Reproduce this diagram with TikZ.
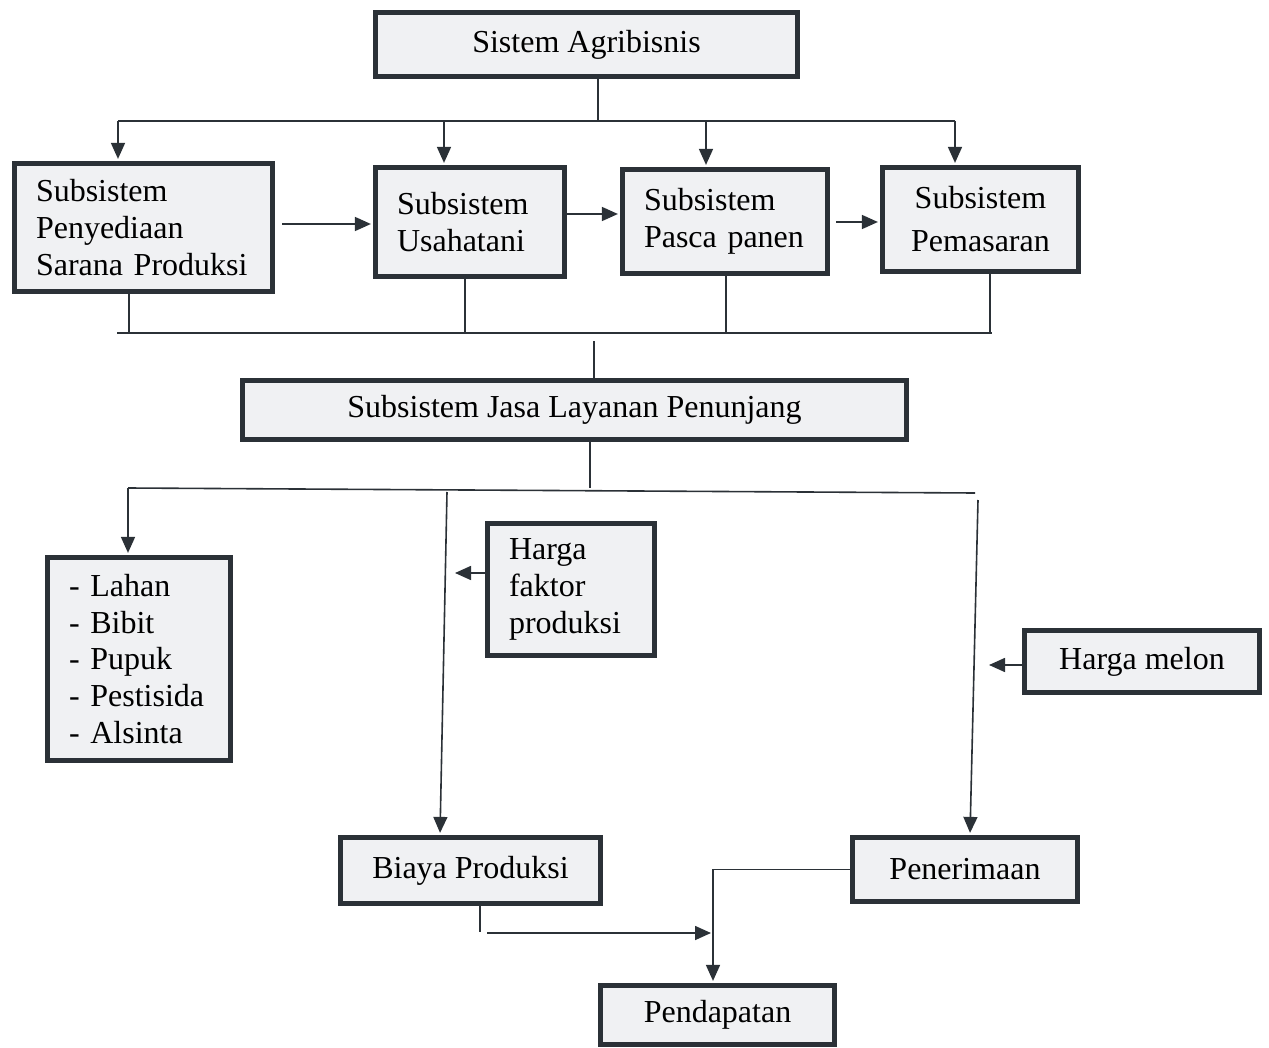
\documentclass[tikz,border=0pt]{standalone}
\usepackage{fontspec}
\setmainfont{Liberation Serif}
\usetikzlibrary{arrows.meta,positioning}
\definecolor{isi}{HTML}{F0F1F3}
\definecolor{tepi}{HTML}{2B3137}
\begin{document}
\begin{tikzpicture}[x=0.5pt, y=-0.5pt,
  kotak/.style = {shape=rectangle, draw=tepi, line width=2.6pt,
    fill=isi, align=center, inner sep=0pt,
    font=\fontsize{16}{18.4}\selectfont},
  kiri/.style = {align=left, inner xsep=10.75pt},
  hubung/.style = {draw=tepi, line width=0.8pt},
  panah/.style = {hubung, shorten >=1pt, -{Triangle[length=8pt,width=7pt]}}]
  \fill[white] (0,0) rectangle (1269,1048);
  \useasboundingbox (0,0) rectangle (1269,1048);

  \node[kotak, minimum width=211pt, minimum height=32pt] (agri) at (586.5,44.5) {Sistem Agribisnis};
  \node[kotak, kiri, text width=107.5pt, minimum height=64pt] (sarana) at (143.5,227.5) {Subsistem\\Penyediaan\\Sarana Produksi};
  \node[kotak, kiri, text width=73pt, minimum height=54.5pt] (usaha) at (470,222) {Subsistem\\Usahatani};
  \node[kotak, kiri, text width=81pt, minimum height=52pt] (pasca) at (725,221.5) {Subsistem\\Pasca panen};
  \node[kotak, minimum width=98pt, minimum height=52pt,
    font=\fontsize{16}{21.5}\selectfont] (pemasaran) at (980.5,219.5) {Subsistem\\Pemasaran};
  \node[kotak, minimum width=332pt, minimum height=29.5pt] (jasa) at (574.5,410) {Subsistem Jasa Layanan Penunjang};
  \node[kotak, kiri, text width=70pt, minimum height=101.5pt] (lahan) at (139,659) {- Lahan\\- Bibit\\- Pupuk\\- Pestisida\\- Alsinta};
  \node[kotak, kiri, text width=62pt, minimum height=66pt] (faktor) at (571,589.5) {Harga\\faktor\\produksi};
  \node[kotak, minimum width=117.5pt, minimum height=31pt] (melon) at (1142,661.5) {Harga melon};
  \node[kotak, minimum width=130pt, minimum height=33pt] (biaya) at (470.5,870.5) {Biaya Produksi};
  \node[kotak, minimum width=112.5pt, minimum height=32pt] (terima) at (965,869.5) {Penerimaan};
  \node[kotak, minimum width=117pt, minimum height=29.5pt] (dapat) at (717.5,1015) {Pendapatan};

  % cabang atas
  \coordinate (a0) at (598,121);
  \coordinate (bL) at (118,121);
  \coordinate (b2) at (444,121);
  \coordinate (b3) at (706,121);
  \coordinate (bR) at (955,121);
  \draw[hubung] (agri.south -| a0) -- (a0);
  \draw[hubung] (bL) -- (bR);
  \draw[panah] (bL) -- (bL |- sarana.north);
  \draw[panah] (b2) -- (b2 |- usaha.north);
  \draw[panah] (b3) -- (b3 |- pasca.north);
  \draw[panah] (bR) -- (bR |- pemasaran.north);

  \coordinate (h1) at (282,224);
  \coordinate (h2) at (567,214);
  \coordinate (h3) at (836,222);
  \draw[panah] (h1) -- (h1 -| usaha.west);
  \draw[panah] (h2) -- (h2 -| pasca.west);
  \draw[panah] (h3) -- (h3 -| pemasaran.west);

  % gabung ke jasa layanan
  \coordinate (cL) at (117,333);
  \coordinate (c1) at (129,333);
  \coordinate (c2) at (465,333);
  \coordinate (c3) at (726,333);
  \coordinate (c4) at (990,333);
  \coordinate (cR) at (992,333);
  \draw[hubung] (cL) -- (cR);
  \draw[hubung] (sarana.south -| c1) -- (c1);
  \draw[hubung] (usaha.south -| c2) -- (c2);
  \draw[hubung] (pasca.south -| c3) -- (c3);
  \draw[hubung] (pemasaran.south -| c4) -- (c4);
  \coordinate (j1) at (594,341);
  \draw[hubung] (j1) -- (j1 |- jasa.north);

  % cabang bawah
  \coordinate (j2) at (590,488);
  \coordinate (dL) at (128,488);
  \coordinate (dR) at (975,493);
  \coordinate (d2) at (447,492);
  \coordinate (d3) at (978,500);
  \draw[hubung] (jasa.south -| j2) -- (j2);
  \draw[hubung] (dL) -- (dR);
  \draw[panah] (dL) -- (dL |- lahan.north);
  \draw[panah] (d2) -- ([xshift=-15.25pt]biaya.north);
  \draw[panah] (d3) -- ([xshift=2.5pt]terima.north);

  \coordinate (f1) at (453,573);
  \coordinate (m1) at (987,665);
  \draw[panah] (faktor.west |- f1) -- (f1);
  \draw[panah] (melon.west |- m1) -- (m1);

  % ke pendapatan
  \coordinate (t1) at (480,932);
  \coordinate (t2) at (487,933);
  \coordinate (t3) at (713,933);
  \draw[hubung] (biaya.south -| t1) -- (t1);
  \draw[panah] (t2) -- (t3);
  \draw[panah] (terima.west) -| ([xshift=-2.25pt]dapat.north);
\end{tikzpicture}
\end{document}
